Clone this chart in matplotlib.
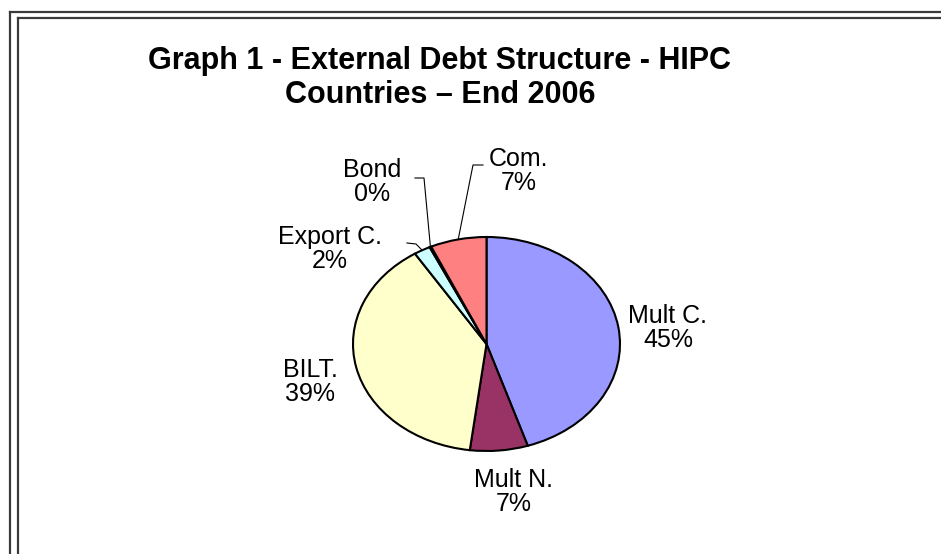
import matplotlib
matplotlib.use("Agg")
import matplotlib.pyplot as plt
import numpy as np

# ---- data ----
categories = ["Mult C.", "Mult N.", "BILT.", "Export C.", "Bond", "Com."]
values = [45.0, 7.0, 39.0, 2.0, 0.2, 6.8]
pct_labels = ["45%", "7%", "39%", "2%", "0%", "7%"]
colors = ["#9999FF", "#993366", "#FFFFCC", "#CCFFFF", "#3366CC", "#FF8080"]
title = "Graph 1 - External Debt Structure - HIPC\nCountries \u2013 End 2006"

# ---- layout (pixels in a 941x554 canvas) ----
W, H = 941, 554
label_pos = [(668, 328), (514, 492), (310, 382), (330, 249), (372, 182), (519, 171)]
# leader knee points (pixel) for small slices: index -> list of points from label side
leaders = {
    3: [(407, 243), (416, 244)],
    4: [(415, 178), (424, 178)],
    5: [(483, 165), (473, 165)],
}

plt.rcParams['font.family'] = ['Liberation Sans', 'DejaVu Sans']
fig = plt.figure(figsize=(W / 100, H / 100), dpi=100)
fig.patch.set_facecolor("white")

def fx(x):
    return x / W

def fy(y):
    return 1 - y / H

# pie axes: ellipse spanning x 353..620, y 237..451
ax = fig.add_axes([fx(353), fy(451), (620 - 353) / W, (451 - 237) / H])
wedges, _ = ax.pie(values, colors=colors, startangle=90, counterclock=False,
                   radius=1.0, normalize=True,
                   wedgeprops=dict(edgecolor="black", linewidth=1.5))
ax.set_aspect('auto')
ax.set_xlim(-1, 1)
ax.set_ylim(-1, 1)
ax.axis('off')

# frame lines
for xo, yo in [(10, 12), (18, 18)]:
    fig.add_artist(plt.Line2D([fx(xo), 1.0], [fy(yo), fy(yo)],
                              transform=fig.transFigure, color='#3a3a3a', lw=1.6))
    fig.add_artist(plt.Line2D([fx(xo), fx(xo)], [fy(yo), 0.0],
                              transform=fig.transFigure, color='#3a3a3a', lw=1.6))

# title
fig.text(fx(440), fy(78), title, ha='center', va='center', fontsize=22,
         fontweight='bold', linespacing=1.2)

# labels
for i, (cat, pl) in enumerate(zip(categories, pct_labels)):
    x, y = label_pos[i]
    fig.text(fx(x), fy(y), f"{cat}\n{pl}", ha='center', va='center',
             fontsize=18, linespacing=1.02, multialignment='center')

# leader lines from knee points to wedge mid-angle on the rim
for i, pts in leaders.items():
    w = wedges[i]
    mid = np.deg2rad((w.theta1 + w.theta2) / 2)
    rim = ax.transData.transform((np.cos(mid), np.sin(mid)))
    rim_fig = fig.transFigure.inverted().transform(rim)
    xs = [fx(p[0]) for p in pts] + [rim_fig[0]]
    ys = [fy(p[1]) for p in pts] + [rim_fig[1]]
    fig.add_artist(plt.Line2D(xs, ys, transform=fig.transFigure, color='black', lw=0.8))

fig.savefig("out.png", dpi=100, facecolor="white")
